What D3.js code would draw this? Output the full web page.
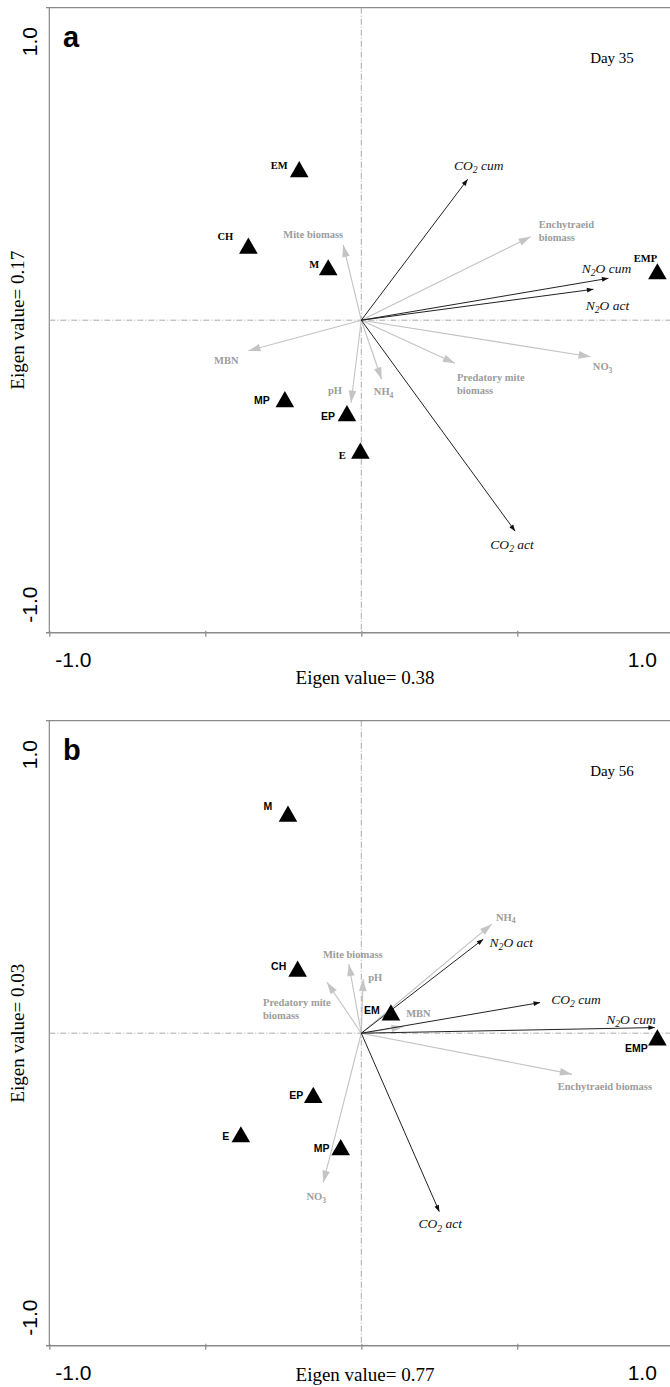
<!DOCTYPE html>
<html>
<head>
<meta charset="utf-8">
<script src="https://cdn.jsdelivr.net/npm/d3@7"></script>
<style>
  body { margin: 0; background: #fff; }
  svg { display: block; }
</style>
</head>
<body>
<div id="chart"></div>
<script>
// Panel a (Day 35) — site scores
const aSites = ["EM", "CH", "M", "EMP", "MP", "EP", "E"];
const aSiteX = [-0.199, -0.362, -0.106, 0.949, -0.245, -0.046, -0.003];
const aSiteY = [0.475, 0.230, 0.161, 0.148, -0.261, -0.306, -0.426];
// Panel a — response variables (black arrows)
const aResp = ["CO2 cum", "N2O cum", "N2O act", "CO2 act"];
const aRespX = [0.341, 0.792, 0.744, 0.493];
const aRespY = [0.451, 0.134, 0.099, -0.675];
// Panel a — explanatory variables (grey arrows)
const aEnv = ["Enchytraeid biomass", "NO3", "Predatory mite biomass", "Mite biomass", "MBN", "pH", "NH4"];
const aEnvX = [0.543, 0.735, 0.300, -0.058, -0.362, -0.033, 0.065];
const aEnvY = [0.267, -0.117, -0.138, 0.241, -0.098, -0.264, -0.189];

// Panel b (Day 56)
const bSites = ["M", "CH", "EM", "EMP", "EP", "E", "MP"];
const bSiteX = [-0.235, -0.204, 0.095, 0.949, -0.154, -0.386, -0.066];
const bSiteY = [0.694, 0.198, 0.058, -0.022, -0.206, -0.332, -0.373];
const bResp = ["N2O act", "CO2 cum", "N2O cum", "CO2 act"];
const bRespX = [0.391, 0.573, 0.941, 0.250];
const bRespY = [0.301, 0.098, 0.018, -0.571];
const bEnv = ["NH4", "MBN", "Enchytraeid biomass", "NO3", "Predatory mite biomass", "Mite biomass", "pH"];
const bEnvX = [0.418, 0.135, 0.675, -0.122, -0.110, -0.040, 0.006];
const bEnvY = [0.349, 0.021, -0.131, -0.478, 0.163, 0.221, 0.173];

const axisTicks = [-1, -0.5, 0, 0.5, 1];
const axisTickLabels = ["-1.0", "1.0"];

// label placement (pixels from the mark), kept apart from the values
const layout = {
  a: {
    titleGap: 51,
    site: { EM: [-20, -6], CH: [-23, -12], M: [-14, -6], EMP: [-12, -16], MP: [-23, -1], EP: [-19, 1], E: [-18, 2] },
    serifSites: ["EM", "CH", "M", "EMP", "E"],
    resp: { "CO2 cum": [11, -14], "N2O cum": [-2, -10], "N2O act": [14, 16], "CO2 act": [-3, 13] },
    env: {
      "Enchytraeid biomass": { dx: 8, dy: -12, anchor: "start", lines: ["Enchytraeid", "biomass"] },
      "NO3": { dx: 12, dy: 10 },
      "Predatory mite biomass": { dx: 2, dy: 14, anchor: "start", lines: ["Predatory mite", "biomass"] },
      "Mite biomass": { dx: -30, dy: -11 },
      "MBN": { dx: -22, dy: 9 },
      "pH": { dx: -16, dy: -12 },
      "NH4": { dx: 2, dy: 12 }
    }
  },
  b: {
    titleGap: 35,
    site: { M: [-20, -10], CH: [-19, -5], EM: [-19, -5], EMP: [-21, 8], EP: [-17, -2], E: [-15, -1], MP: [-19, -1] },
    serifSites: [],
    resp: { "N2O act": [28, 3], "CO2 cum": [36, -3], "N2O cum": [-24, -8], "CO2 act": [1, 12] },
    env: {
      "NH4": { dx: 14, dy: -7 },
      "MBN": { dx: 15, dy: -13 },
      "Enchytraeid biomass": { dx: 33, dy: 12 },
      "NO3": { dx: -7, dy: 14 },
      "Predatory mite biomass": { dx: -64, dy: 20, anchor: "start", lines: ["Predatory mite", "biomass"] },
      "Mite biomass": { dx: 4, dy: -10 },
      "pH": { dx: 12, dy: -2 }
    }
  }
};

const panels = [
  { key: "a", top: 7.7, day: "Day 35", xTitle: "Eigen value= 0.38", yTitle: "Eigen value= 0.17",
    sites: aSites, siteX: aSiteX, siteY: aSiteY, resp: aResp, respX: aRespX, respY: aRespY,
    env: aEnv, envX: aEnvX, envY: aEnvY },
  { key: "b", top: 720.7, day: "Day 56", xTitle: "Eigen value= 0.77", yTitle: "Eigen value= 0.03",
    sites: bSites, siteX: bSiteX, siteY: bSiteY, resp: bResp, respX: bRespX, respY: bRespY,
    env: bEnv, envX: bEnvX, envY: bEnvY }
];

const W = 670, H = 1387, plotH = 625;
const SANS = "'Liberation Sans', Arial, sans-serif";
const SERIF = "'Liberation Serif', 'Times New Roman', serif";

const svg = d3.select("#chart").append("svg")
  .attr("width", W).attr("height", H);
svg.append("rect").attr("width", W).attr("height", H).attr("fill", "#fff");

// digits become subscripts (CO2, N2O, NH4, NO3); shift given in px
function subText(sel, label, fs) {
  const shift = fs * 0.25;
  let back = 0;
  label.split(/(\d)/).forEach(p => {
    if (p === "") return;
    if (/^\d$/.test(p)) {
      sel.append("tspan").attr("font-size", fs * 0.72).attr("dy", shift - back).text(p);
      back = shift;
    } else {
      sel.append("tspan").attr("dy", -back || null).text(p);
      back = 0;
    }
  });
}

function arrowHead(g, x0, y0, x1, y1, len, half, color) {
  const a = Math.atan2(y1 - y0, x1 - x0);
  const bx = x1 - len * Math.cos(a), by = y1 - len * Math.sin(a);
  const px = -Math.sin(a) * half, py = Math.cos(a) * half;
  g.append("path")
    .attr("d", `M${x1},${y1}L${bx + px},${by + py}L${bx - px},${by - py}Z`)
    .attr("fill", color);
}

function drawPanel(p) {
  const L = layout[p.key];
  const g = svg.append("g").attr("transform", `translate(0,${p.top})`);
  const x = d3.scaleLinear().domain([-1, 1]).range([49.3, 673.3]);
  const y = d3.scaleLinear().domain([-1, 1]).range([plotH, 0]);

  // frame
  g.append("line").attr("x1", 46).attr("x2", W).attr("y1", 0).attr("y2", 0)
    .attr("stroke", "#8a8a8a").attr("stroke-width", 1.2);
  g.append("line").attr("x1", x(-1)).attr("x2", x(-1)).attr("y1", 0).attr("y2", plotH)
    .attr("stroke", "#8a8a8a").attr("stroke-width", 1.2);
  g.append("line").attr("x1", 46).attr("x2", W).attr("y1", plotH).attr("y2", plotH)
    .attr("stroke", "#8a8a8a").attr("stroke-width", 1.4);
  const ax = g.append("g").attr("transform", `translate(0,${plotH - 2})`)
    .call(d3.axisBottom(x).tickValues(axisTicks).tickSize(6).tickFormat(""));
  ax.select(".domain").remove();
  ax.selectAll(".tick line").attr("stroke", "#8a8a8a").attr("stroke-width", 1.2);

  // centre dash-dot lines
  const dash = "6,2,1,2";
  g.append("line").attr("x1", x(0)).attr("x2", x(0)).attr("y1", 0).attr("y2", plotH)
    .attr("stroke", "#aaa").attr("stroke-width", 1).attr("stroke-dasharray", dash);
  g.append("line").attr("x1", x(-1)).attr("x2", W).attr("y1", y(0)).attr("y2", y(0))
    .attr("stroke", "#aaa").attr("stroke-width", 1).attr("stroke-dasharray", dash);

  // tick labels
  g.append("text").attr("x", x(-1) + 24).attr("y", plotH + 34)
    .attr("text-anchor", "middle").attr("font-family", SANS).attr("font-size", 21)
    .text(axisTickLabels[0]);
  g.append("text").attr("x", x(1) - 31).attr("y", plotH + 34)
    .attr("text-anchor", "middle").attr("font-family", SANS).attr("font-size", 21)
    .text(axisTickLabels[1]);
  g.append("text").attr("transform", `translate(37,${34}) rotate(-90)`)
    .attr("text-anchor", "middle").attr("font-family", SANS).attr("font-size", 21)
    .text(axisTickLabels[1]);
  g.append("text").attr("transform", `translate(37,${plotH - 28}) rotate(-90)`)
    .attr("text-anchor", "middle").attr("font-family", SANS).attr("font-size", 21)
    .text(axisTickLabels[0]);

  // axis titles
  g.append("text").attr("x", 365).attr("y", plotH + L.titleGap)
    .attr("text-anchor", "middle").attr("font-family", SERIF).attr("font-size", 19)
    .text(p.xTitle);
  g.append("text").attr("transform", `translate(24,${y(0)}) rotate(-90)`)
    .attr("text-anchor", "middle").attr("font-family", SERIF).attr("font-size", 19)
    .text(p.yTitle);

  // panel letter and day
  g.append("text").attr("x", 63).attr("y", 39)
    .attr("font-family", SANS).attr("font-weight", "bold").attr("font-size", 29)
    .text(p.key);
  g.append("text").attr("x", 612).attr("y", 55)
    .attr("text-anchor", "middle").attr("font-family", SERIF).attr("font-size", 15)
    .text(p.day);

  const cx = x(0), cy = y(0);

  // grey arrows
  const envG = g.append("g");
  p.env.forEach((name, i) => {
    const tx = x(p.envX[i]), ty = y(p.envY[i]);
    envG.append("line").attr("x1", cx).attr("y1", cy).attr("x2", tx).attr("y2", ty)
      .attr("stroke", "#c2c2c2").attr("stroke-width", 1.1);
    arrowHead(envG, cx, cy, tx, ty, 12, 3.8, "#c4c4c4");
    const o = L.env[name];
    const t = envG.append("text")
      .attr("x", tx + o.dx).attr("y", ty + o.dy + 3.7)
      .attr("text-anchor", o.anchor || "middle")
      .attr("font-family", SERIF).attr("font-weight", "bold").attr("font-size", 10.5)
      .attr("fill", "#9c9c9c");
    if (o.lines) {
      o.lines.forEach((ln, k) => {
        t.append("tspan").attr("x", tx + o.dx).attr("dy", k === 0 ? 0 : 12.6).text(ln);
      });
    } else {
      subText(t, name, 10.5);
    }
  });

  // black arrows
  const respG = g.append("g");
  p.resp.forEach((name, i) => {
    const tx = x(p.respX[i]), ty = y(p.respY[i]);
    respG.append("line").attr("x1", cx).attr("y1", cy).attr("x2", tx).attr("y2", ty)
      .attr("stroke", "#222").attr("stroke-width", 1);
    arrowHead(respG, cx, cy, tx, ty, 6.5, 2.4, "#111");
    const o = L.resp[name];
    const t = respG.append("text")
      .attr("x", tx + o[0]).attr("y", ty + o[1] + 4.5)
      .attr("text-anchor", "middle")
      .attr("font-family", SERIF).attr("font-style", "italic").attr("font-size", 13.5)
      .attr("fill", "#111");
    subText(t, name, 13.5);
  });

  // site triangles
  const tri = d3.symbol().type(d3.symbolTriangle).size(150);
  const siteG = g.append("g");
  p.sites.forEach((name, i) => {
    const sx = x(p.siteX[i]), sy = y(p.siteY[i]);
    siteG.append("path").attr("d", tri).attr("transform", `translate(${sx},${sy})`)
      .attr("fill", "#000");
    const o = L.site[name];
    siteG.append("text")
      .attr("x", sx + o[0]).attr("y", sy + o[1]).attr("dy", "0.35em")
      .attr("text-anchor", "middle")
      .attr("font-family", L.serifSites.includes(name) ? SERIF : SANS)
      .attr("font-weight", "bold").attr("font-size", 10.5)
      .text(name);
  });
}

panels.forEach(drawPanel);
</script>
</body>
</html>
